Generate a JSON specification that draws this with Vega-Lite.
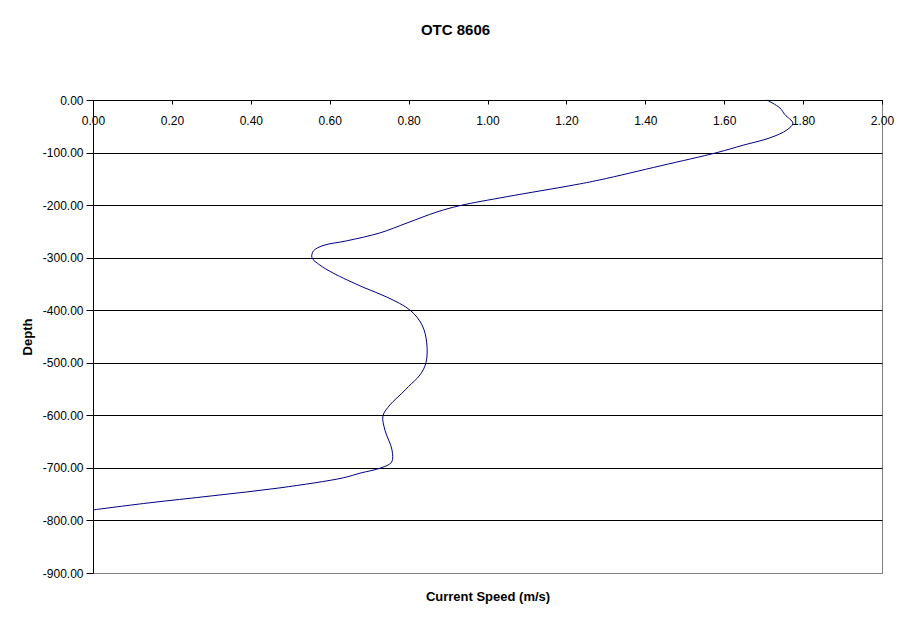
{
  "$schema": "https://vega.github.io/schema/vega-lite/v6.json",
  "width": 789,
  "height": 473,
  "autosize": "none",
  "padding": {"left": 93, "top": 100, "right": 29, "bottom": 50},
  "background": "white",
  "config": {
    "font": "Liberation Sans",
    "view": {"stroke": "#808080", "strokeWidth": 1},
    "axis": {"labelFont": "Liberation Sans", "titleFont": "Liberation Sans", "labelColor": "black", "titleColor": "black"}
  },
  "title": {
    "text": "OTC 8606",
    "font": "Liberation Sans",
    "fontSize": 15,
    "fontWeight": "bold",
    "color": "black",
    "anchor": "middle",
    "dx": -32,
    "offset": 56
  },
  "data": {
    "values": [
      {"depth": 0, "speed": 1.708},
      {"depth": -15, "speed": 1.741},
      {"depth": -28, "speed": 1.754},
      {"depth": -44, "speed": 1.774},
      {"depth": -57, "speed": 1.759},
      {"depth": -72, "speed": 1.716},
      {"depth": -86, "speed": 1.648},
      {"depth": -100, "speed": 1.582},
      {"depth": -125, "speed": 1.44},
      {"depth": -152, "speed": 1.285},
      {"depth": -162, "speed": 1.217},
      {"depth": -184, "speed": 1.049},
      {"depth": -201, "speed": 0.93},
      {"depth": -213, "speed": 0.872},
      {"depth": -234, "speed": 0.796},
      {"depth": -253, "speed": 0.727},
      {"depth": -268, "speed": 0.643},
      {"depth": -277, "speed": 0.583},
      {"depth": -287, "speed": 0.559},
      {"depth": -300, "speed": 0.555},
      {"depth": -314, "speed": 0.575},
      {"depth": -329, "speed": 0.608},
      {"depth": -356, "speed": 0.684},
      {"depth": -375, "speed": 0.745},
      {"depth": -400, "speed": 0.804},
      {"depth": -428, "speed": 0.834},
      {"depth": -462, "speed": 0.846},
      {"depth": -500, "speed": 0.844},
      {"depth": -523, "speed": 0.829},
      {"depth": -545, "speed": 0.8},
      {"depth": -558, "speed": 0.783},
      {"depth": -580, "speed": 0.753},
      {"depth": -601, "speed": 0.735},
      {"depth": -628, "speed": 0.74},
      {"depth": -666, "speed": 0.758},
      {"depth": -689, "speed": 0.757},
      {"depth": -700, "speed": 0.73},
      {"depth": -710, "speed": 0.677},
      {"depth": -719, "speed": 0.634},
      {"depth": -738, "speed": 0.474},
      {"depth": -753, "speed": 0.304},
      {"depth": -767, "speed": 0.137},
      {"depth": -780, "speed": 0.0}
    ]
  },
  "resolve": {"axis": {"x": "independent", "y": "independent"}},
  "layer": [
    {
      "mark": {"type": "line", "color": "#000080", "strokeWidth": 1, "interpolate": "catmull-rom"},
      "encoding": {
        "x": {
          "field": "speed",
          "type": "quantitative",
          "scale": {"domain": [0, 2], "nice": false, "zero": false},
          "axis": {
            "orient": "top",
            "title": null,
            "values": [0, 0.2, 0.4, 0.6, 0.8, 1.0, 1.2, 1.4, 1.6, 1.8, 2.0],
            "format": ".2f",
            "grid": false,
            "domainColor": "black",
            "tickColor": "black",
            "tickSize": -4,
            "labelPadding": -11,
            "labelBaseline": "top",
            "labelFontSize": 12,
            "labelFlush": false,
            "labelOverlap": false
          }
        },
        "y": {
          "field": "depth",
          "type": "quantitative",
          "scale": {"domain": [-900, 0], "nice": false, "zero": false},
          "axis": {
            "orient": "left",
            "title": "Depth",
            "titleFontSize": 13,
            "titleFontWeight": "bold",
            "titlePadding": 8,
            "values": [-900, -800, -700, -600, -500, -400, -300, -200, -100, 0],
            "labelExpr": "replace(format(datum.value, '.2f'), '\u2212', '-')",
            "labelFontSize": 12,
            "labelPadding": 3,
            "tickSize": 7,
            "tickColor": "black",
            "domainColor": "black",
            "labelFlush": false,
            "labelOverlap": false,
            "grid": true,
            "gridColor": {"condition": {"test": "datum.value === -900", "value": "#808080"}, "value": "black"},
            "gridOpacity": 1
          }
        },
        "order": {"field": "depth", "type": "quantitative", "sort": "descending"}
      }
    },
    {
      "mark": {"type": "line", "opacity": 0, "strokeWidth": 0},
      "encoding": {
        "x": {
          "field": "speed",
          "type": "quantitative",
          "scale": {"domain": [0, 2], "nice": false, "zero": false},
          "axis": {
            "orient": "bottom",
            "title": "Current Speed (m/s)",
            "titleFontSize": 13,
            "titleFontWeight": "bold",
            "titlePadding": 17,
            "labels": false,
            "ticks": false,
            "grid": false,
            "domainColor": "#808080"
          }
        },
        "y": {
          "field": "depth",
          "type": "quantitative",
          "scale": {"domain": [-900, 0], "nice": false, "zero": false},
          "axis": null
        },
        "order": {"field": "depth", "type": "quantitative", "sort": "descending"}
      }
    }
  ]
}
